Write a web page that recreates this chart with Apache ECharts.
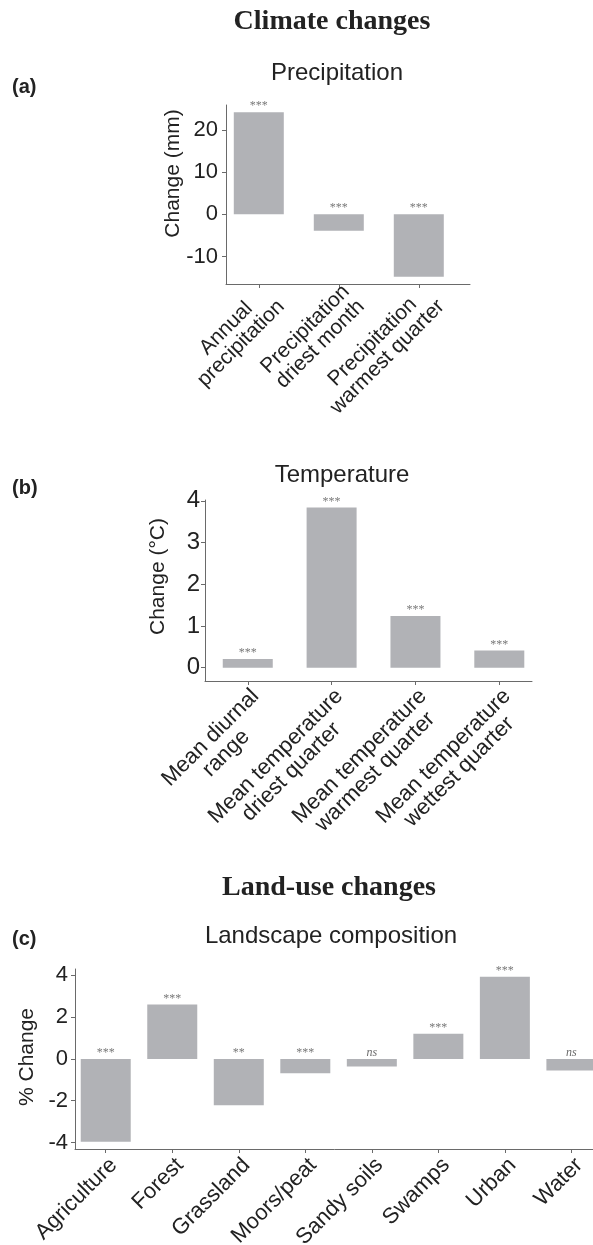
<!DOCTYPE html>
<html><head><meta charset="utf-8">
<script src="https://cdn.jsdelivr.net/npm/echarts@6/dist/echarts.min.js"></script>
<style>html,body{margin:0;padding:0;background:#fff}#c{width:593px;height:1245px}</style>
</head><body><div id="c"></div>
<script>
// ---------- data ----------
const precipCats = ['Annual\nprecipitation', 'Precipitation\ndriest month', 'Precipitation\nwarmest quarter'];
const precipVals = [24.2, -3.9, -14.8];
const precipSig = ['***', '***', '***'];
const precipTicks = [-10, 0, 10, 20];

const tempCats = ['Mean diurnal\nrange', 'Mean temperature\ndriest quarter', 'Mean temperature\nwarmest quarter', 'Mean temperature\nwettest quarter'];
const tempVals = [0.21, 3.84, 1.24, 0.41];
const tempSig = ['***', '***', '***', '***'];
const tempTicks = [0, 1, 2, 3, 4];

const landCats = ['Agriculture', 'Forest', 'Grassland', 'Moors/peat', 'Sandy soils', 'Swamps', 'Urban', 'Water'];
const landVals = [-3.96, 2.6, -2.22, -0.69, -0.36, 1.2, 3.93, -0.55];
const landSig = ['***', '***', '**', '***', 'ns', '***', '***', 'ns'];
const landTicks = [-4, -2, 0, 2, 4];

// ---------- styling / layout ----------
const SANS = '"Liberation Sans", Arial, Helvetica, sans-serif';
const SERIF = '"Liberation Serif", "Times New Roman", Times, serif';
const BAR = '#b1b2b6';
const AXIS = '#6a6a6a';
const TXT = '#222';

const panels = [
  { cats: precipCats, vals: precipVals, sig: precipSig, ticks: precipTicks, name: 'Change (mm)',
    grid: { left: 226, top: 105, width: 244, height: 179 }, xMin: -0.41, xMax: 2.64, yMin: -16.5, yMax: 25.9,
    labelSize: 21, tickSize: 22, yMargin: 8, nameGap: 42, namePad: 42, xMargin: -3 },
  { cats: tempCats, vals: tempVals, sig: tempSig, ticks: tempTicks, name: 'Change (°C)',
    grid: { left: 205, top: 500, width: 327, height: 181 }, xMin: -0.51, xMax: 3.39, yMin: -0.32, yMax: 4.02,
    labelSize: 22, tickSize: 24, yMargin: 5, nameGap: 36, namePad: 28, xMargin: 4 },
  { cats: landCats, vals: landVals, sig: landSig, ticks: landTicks, name: '% Change',
    grid: { left: 75, top: 969, width: 525, height: 180 }, xMin: -0.462, xMax: 7.43, yMin: -4.31, yMax: 4.3,
    labelSize: 22, tickSize: 22, yMargin: 7, nameGap: 37, namePad: 4, xMargin: 5 }
];

const grids = [], xAxes = [], yAxes = [], series = [];
panels.forEach((p, k) => {
  grids.push(Object.assign({ containLabel: false, outerBoundsMode: 'none' }, p.grid));
  const idx = p.cats.map((_, i) => i);
  xAxes.push({
    gridIndex: k, type: 'value', min: p.xMin, max: p.xMax,
    axisLine: { show: true, onZero: false, lineStyle: { color: AXIS, width: 1 } },
    axisTick: { show: true, length: 4, customValues: idx, lineStyle: { color: AXIS, width: 1 } },
    splitLine: { show: false },
    axisLabel: {
      customValues: idx, rotate: 45, margin: p.xMargin, align: 'right', verticalAlign: 'top',
      formatter: v => p.cats[Math.round(v)].split('\n').map(l => '{c|' + l + '}').join('\n'),
      rich: { c: { align: 'center', fontSize: p.labelSize, fontFamily: SANS, color: TXT, lineHeight: p.labelSize } },
      fontSize: p.labelSize, fontFamily: SANS, color: TXT
    }
  });
  yAxes.push({
    gridIndex: k, type: 'value', min: p.yMin, max: p.yMax,
    name: p.name, nameLocation: 'middle', nameGap: p.nameGap, nameMoveOverlap: false,
    nameTextStyle: { fontSize: 21, fontFamily: SANS, color: TXT, padding: [0, 0, 0, p.namePad] },
    axisLine: { show: true, onZero: false, lineStyle: { color: AXIS, width: 1 } },
    axisTick: { show: true, length: 4, customValues: p.ticks, lineStyle: { color: AXIS, width: 1 } },
    splitLine: { show: false },
    axisLabel: { customValues: p.ticks, margin: p.yMargin, fontSize: p.tickSize, fontFamily: SANS, color: TXT }
  });
  series.push({
    type: 'bar', xAxisIndex: k, yAxisIndex: k, barWidth: 50, silent: true,
    itemStyle: { color: BAR },
    data: p.vals.map((v, i) => [i, v])
  });
  series.push({
    type: 'scatter', xAxisIndex: k, yAxisIndex: k, symbolSize: 0, silent: true, z: 5,
    data: p.vals.map((v, i) => ({
      value: [i, Math.max(v, 0)],
      label: p.sig[i] === 'ns' ? { fontStyle: 'italic', color: '#444' } : {}
    })),
    label: { show: true, position: 'top', distance: 0, formatter: q => p.sig[q.dataIndex],
      fontFamily: SERIF, fontSize: 12, color: '#555' }
  });
});

function txt(text, x, y, font, extra) {
  return { type: 'text', x: x, y: y, silent: true,
    style: Object.assign({ text: text, font: font, fill: TXT, align: 'center', verticalAlign: 'middle',
      textAlign: 'center', textVerticalAlign: 'middle' }, extra || {}) };
}

const chart = echarts.init(document.getElementById('c'), null, { renderer: 'canvas' });
chart.setOption({
  animation: false,
  backgroundColor: '#fff',
  grid: grids, xAxis: xAxes, yAxis: yAxes, series: series,
  graphic: [
    txt('Climate changes', 332, 22, 'bold 28px ' + SERIF),
    txt('Land-use changes', 329, 888, 'bold 28px ' + SERIF),
    txt('Precipitation', 337, 73.6, '24px ' + SANS),
    txt('Temperature', 342, 475.5, '24px ' + SANS),
    txt('Landscape composition', 331, 936, '24px ' + SANS),
    txt('(a)', 12, 87, 'bold 20px ' + SANS, { align: 'left', textAlign: 'left' }),
    txt('(b)', 12, 488, 'bold 20px ' + SANS, { align: 'left', textAlign: 'left' }),
    txt('(c)', 12, 939, 'bold 20px ' + SANS, { align: 'left', textAlign: 'left' })
  ]
});
</script></body></html>
